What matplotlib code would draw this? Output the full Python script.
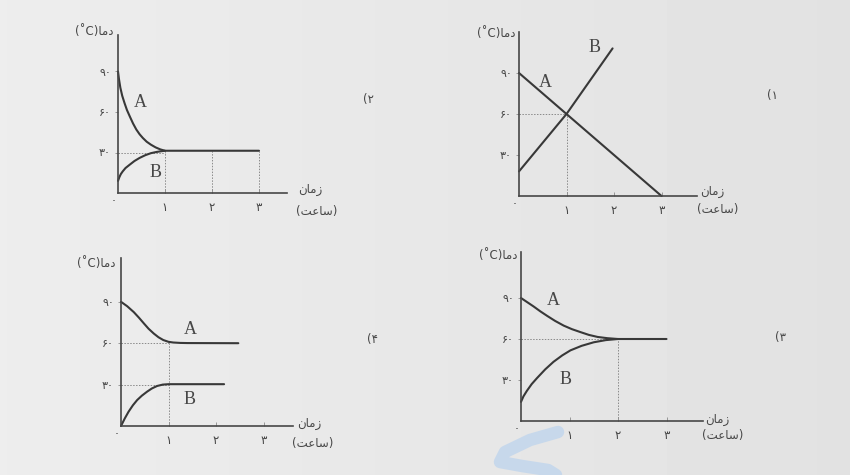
import numpy as np
import matplotlib
matplotlib.use('Agg')
import matplotlib.pyplot as plt

W, H = 850, 475

# persian text, already shaped (presentation forms) and in visual order
Y_LABEL = "(\u02daC)" + "\uFE8E\uFEE3\uFEA9"          # دما (°C)
X_LABEL = "\uFEE5\uFE8E\uFEE3\uFEAF"                   # زمان
X_UNIT = "(" + "\uFE96\uFECB\uFE8E\uFEB3" + ")"        # (ساعت)

x_ticks = [1, 2, 3]
x_tick_labels = ["\u06f1", "\u06f2", "\u06f3"]
y_ticks = [30, 60, 90]
y_tick_labels = ["\u06f3\u06f0", "\u06f6\u06f0", "\u06f9\u06f0"]
option_labels = ["(\u06f1", "(\u06f2", "(\u06f3", "(\u06f4"]

# option 1 (top right): straight lines
p1_a_x = [0, 3]
p1_a_y = [90, 0]
p1_b_x = [0, 1, 1.97]
p1_b_y = [18, 60, 108]

# option 2 (top left)
p2_a_x = [0, 0.02, 0.05, 0.09, 0.14, 0.19, 0.25, 0.32, 0.39, 0.46, 0.53, 0.61, 0.70, 0.80, 0.90, 1.0, 3.0]
p2_a_y = [90, 84.5, 78, 72, 66.5, 61.5, 56.8, 51.5, 47, 43.5, 40.7, 38, 35.8, 33.8, 32.3, 31.3, 31.3]
p2_b_x = [0, 0.03, 0.06, 0.10, 0.16, 0.25, 0.35, 0.46, 0.58, 0.70, 0.82, 0.93, 1.0]
p2_b_y = [9, 11.8, 14, 16, 18.5, 21, 23.7, 26, 28, 29.5, 30.4, 31, 31.3]

# option 3 (bottom right)
p3_a_x = [0, 0.13, 0.26, 0.4, 0.54, 0.7, 0.88, 1.05, 1.23, 1.4, 1.58, 1.78, 2.0, 3.0]
p3_a_y = [90, 86.9, 83.8, 80.2, 76.9, 73.3, 69.8, 67.2, 65, 63, 61.5, 60.6, 60, 60]
p3_b_x = [0, 0.05, 0.12, 0.22, 0.33, 0.5, 0.67, 0.85, 1.02, 1.25, 1.5, 1.75, 2.0]
p3_b_y = [14, 18, 22, 27, 31.4, 37.8, 43.3, 48, 51.7, 55, 57.6, 59.2, 60]

# option 4 (bottom left)
p4_a_x = [0, 0.13, 0.27, 0.38, 0.48, 0.58, 0.69, 0.79, 0.89, 1.0, 1.10, 1.25, 1.4, 2.47]
p4_a_y = [90, 86.8, 82.5, 78.4, 74.4, 70.5, 67, 64.3, 62.3, 61, 60.5, 60.2, 60.1, 60]
p4_b_x = [0, 0.08, 0.16, 0.25, 0.34, 0.44, 0.55, 0.65, 0.76, 0.88, 1.0, 2.17]
p4_b_y = [0, 5.5, 10.4, 15, 18.8, 22, 24.9, 27.2, 29, 30, 30.3, 30.3]

CURVE = '#383838'
AXIS = '#474747'
GUIDE = '#8a8a8a'
TEXT = '#474747'
AR = ['DejaVu Sans']

fig = plt.figure(figsize=(W / 100, H / 100), dpi=100)

# scanned paper background, slightly darker to the right
bg = np.linspace(0.93, 0.885, 256)[None, :].repeat(8, axis=0)
bg_ax = fig.add_axes([0, 0, 1, 1])
bg_ax.imshow(bg, cmap='gray', vmin=0, vmax=1, aspect='auto', extent=[0, 1, 0, 1])
bg_ax.set_xlim(0, 1)
bg_ax.set_ylim(0, 1)
bg_ax.axis('off')
# light blue watermark stroke near the bottom
bg_ax.plot(np.array([558, 530, 505, 500, 522, 548, 556]) / W,
		1 - np.array([432, 440, 452, 462, 466, 470, 475]) / H,
		color='#c4d7ec', lw=9, solid_capstyle='round', solid_joinstyle='round', alpha=0.9)


def px(x, y):
	return x / W, 1 - y / H


def make_panel(ox, oy, ux, uy30, x_end, y_top):
	'''
	Axes whose data origin sits at pixel (ox, oy); ux px per hour, uy30 px per 30 degrees.
	'''
	ax = fig.add_axes([ox / W, 1 - oy / H, (x_end - ox) / W, (oy - y_top) / H])
	ax.set_xlim(0, (x_end - ox) / ux)
	ax.set_ylim(0, (oy - y_top) / uy30 * 30)
	ax.patch.set_alpha(0)
	for s in ['top', 'right']:
		ax.spines[s].set_visible(False)
	for s in ['left', 'bottom']:
		ax.spines[s].set_color(AXIS)
		ax.spines[s].set_linewidth(1.2)
	ax.set_xticks(x_ticks, x_tick_labels, family=AR, fontsize=8.5, color=TEXT)
	ax.set_yticks(y_ticks, y_tick_labels, family=AR, fontsize=8, color=TEXT)
	ax.tick_params(axis='x', direction='in', length=3, width=0.6, pad=6, colors=GUIDE, labelcolor=TEXT)
	ax.tick_params(axis='y', direction='out', length=2, width=0.6, pad=3, colors=GUIDE, labelcolor=TEXT)
	ax.annotate("\u06f0", xy=(0, 0), xytext=(-3, -6), textcoords='offset points',
				ha='center', va='center', fontsize=8, color=TEXT, family=AR)
	return ax


def guide(ax, xs, ys):
	ax.plot(xs, ys, color=GUIDE, lw=0.7, ls=(0, (1.5, 1.5)), clip_on=False)


def curve(ax, xs, ys):
	ax.plot(xs, ys, color=CURVE, lw=1.5, solid_capstyle='round', solid_joinstyle='round', clip_on=False)


def letter(ax, x, y, s):
	ax.text(x, y, s, fontsize=13, color=TEXT, family='Liberation Serif', ha='center', va='center')


def labels(ylab_right, ylab_y, xlab_left, xlab_y, unit_left, unit_y):
	fig.text(*px(ylab_right, ylab_y), Y_LABEL, family=AR, fontsize=8.5, color=TEXT, ha='right', va='center')
	fig.text(*px(xlab_left, xlab_y), X_LABEL, family=AR, fontsize=8.5, color=TEXT, ha='left', va='center')
	fig.text(*px(unit_left, unit_y), X_UNIT, family=AR, fontsize=8.5, color=TEXT, ha='left', va='center')


# option 2, top left
ax2 = make_panel(118, 193, 47, 40.5, 287, 35)
guide(ax2, [0, 1], [30, 30])
for xv in x_ticks:
	guide(ax2, [xv, xv], [0, 31])
curve(ax2, p2_a_x, p2_a_y)
curve(ax2, p2_b_x, p2_b_y)
letter(ax2, 0.47, 67, 'A')
letter(ax2, 0.79, 15, 'B')
labels(113, 31, 298, 190, 296, 212)
fig.text(*px(368, 100), option_labels[1], family=AR, fontsize=8.5, color=TEXT, ha='center', va='center')

# option 1, top right
ax1 = make_panel(519, 196, 47.5, 41, 697, 32)
guide(ax1, [0, 1], [60, 60])
guide(ax1, [1, 1], [0, 60])
curve(ax1, p1_a_x, p1_a_y)
curve(ax1, p1_b_x, p1_b_y)
letter(ax1, 0.55, 83, 'A')
letter(ax1, 1.6, 109, 'B')
labels(515, 33, 700, 192, 697, 210)
fig.text(*px(772, 96), option_labels[0], family=AR, fontsize=8.5, color=TEXT, ha='center', va='center')

# option 4, bottom left
ax4 = make_panel(121, 426, 47.5, 41.4, 293, 258)
guide(ax4, [0, 1], [60, 60])
guide(ax4, [0, 1], [30, 30])
guide(ax4, [1, 1], [0, 60])
curve(ax4, p4_a_x, p4_a_y)
curve(ax4, p4_b_x, p4_b_y)
letter(ax4, 1.45, 70, 'A')
letter(ax4, 1.45, 19, 'B')
labels(116, 263, 297, 424, 292, 444)
fig.text(*px(372, 340), option_labels[3], family=AR, fontsize=8.5, color=TEXT, ha='center', va='center')

# option 3, bottom right
ax3 = make_panel(521, 421, 48.5, 41, 703, 252)
guide(ax3, [0, 2], [60, 60])
guide(ax3, [2, 2], [0, 60])
curve(ax3, p3_a_x, p3_a_y)
curve(ax3, p3_b_x, p3_b_y)
letter(ax3, 0.67, 88.5, 'A')
letter(ax3, 0.92, 30, 'B')
labels(517, 256, 705, 420, 702, 436)
fig.text(*px(780, 337), option_labels[2], family=AR, fontsize=8.5, color=TEXT, ha='center', va='center')

fig.savefig('out.png', dpi=100)
